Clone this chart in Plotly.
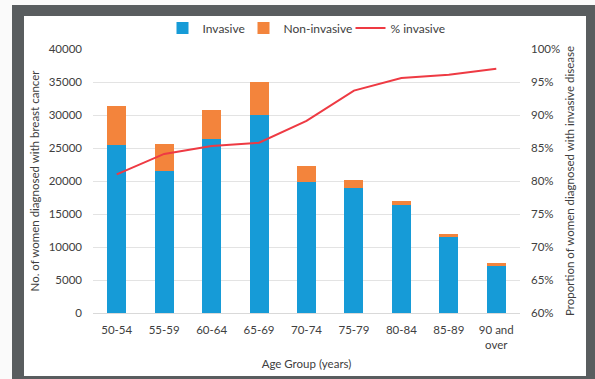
import plotly.graph_objects as go

# Age bands and counts of women diagnosed with breast cancer
age_groups = ["50-54", "55-59", "60-64", "65-69", "70-74", "75-79", "80-84", "85-89", "90 and<br>over"]
invasive = [25400, 21500, 26300, 30000, 19900, 18900, 16300, 11500, 7270]
non_invasive = [5900, 4100, 4500, 5000, 2400, 1300, 700, 500, 260]
pct_invasive = [81.0, 84.1, 85.3, 85.8, 89.1, 93.7, 95.6, 96.1, 97.0]

left_ticks = list(range(0, 40001, 5000))
right_ticks = list(range(60, 101, 5))
right_labels = [f"{v}%" for v in right_ticks]

W, H = 595, 379
L, R, T, B = 93, 75, 49, 66
pw, ph = W - L - R, H - T - B


def px_x(x):
    return (x - L) / pw


def px_y(y):
    return (H - B - y) / ph


BLUE = "#169bd7"
ORANGE = "#f3843c"
RED = "#ee3a43"
TXT = "#404040"
FONT = "Lato, Open Sans, sans-serif"

fig = go.Figure()
fig.add_trace(go.Bar(x=age_groups, y=invasive, name="Invasive", legendwidth=36,
                     marker=dict(color=BLUE, line=dict(width=0))))
fig.add_trace(go.Bar(x=age_groups, y=non_invasive, name="Non-invasive", legendwidth=62,
                     marker=dict(color=ORANGE, line=dict(width=0))))
fig.add_trace(go.Scatter(x=age_groups, y=pct_invasive, name="% invasive", mode="lines", legendwidth=55,
                         line=dict(color=RED, width=2), yaxis="y2"))

# Dark frame around the chart
shapes = [
    dict(type="rect", xref="paper", yref="paper", layer="below",
         x0=px_x(12), x1=px_x(600), y0=px_y(5), y1=px_y(385),
         fillcolor="#595d5f", line=dict(width=0)),
    dict(type="rect", xref="paper", yref="paper", layer="below",
         x0=px_x(24), x1=px_x(586), y0=px_y(16), y1=px_y(376),
         fillcolor="white", line=dict(width=0)),
]

fig.update_layout(
    width=W, height=H,
    margin=dict(l=L, r=R, t=T, b=B, autoexpand=False),
    paper_bgcolor="#fafafa",
    plot_bgcolor="rgba(0,0,0,0)",
    barmode="stack",
    bargap=0.6,
    shapes=shapes,
    font=dict(family=FONT, size=11, color=TXT),
    legend=dict(orientation="h", x=0.5, xanchor="center", y=px_y(28), yanchor="middle",
                bgcolor="rgba(0,0,0,0)", font=dict(size=12, color=TXT),
                itemwidth=30, traceorder="normal"),
    xaxis=dict(
        showgrid=False, showline=True, linecolor="#d9d9d9", linewidth=1,
        tickfont=dict(size=11.5, color=TXT), ticklabelstandoff=6,
        title=dict(text="Age Group (years)", font=dict(size=11.5, color=TXT), standoff=10),
    ),
    yaxis=dict(
        range=[0, 40000], tickvals=left_ticks, tickformat="d",
        showgrid=True, gridcolor="#e3e3e3", gridwidth=1, zeroline=False,
        tickfont=dict(size=11.5, color=TXT), ticklabelstandoff=10,
        title=dict(text="No. of women diagnosed with breast cancer", font=dict(size=11.5, color=TXT), standoff=6),
    ),
    yaxis2=dict(
        range=[60, 100], tickvals=right_ticks, ticktext=right_labels,
        overlaying="y", side="right", showgrid=False, zeroline=False,
        tickfont=dict(size=11.5, color=TXT), ticklabelstandoff=10,
        title=dict(text="Proportion of women diagnosed with invasive disease", font=dict(size=11.5, color=TXT), standoff=6),
    ),
)

fig.write_html("out.html")
